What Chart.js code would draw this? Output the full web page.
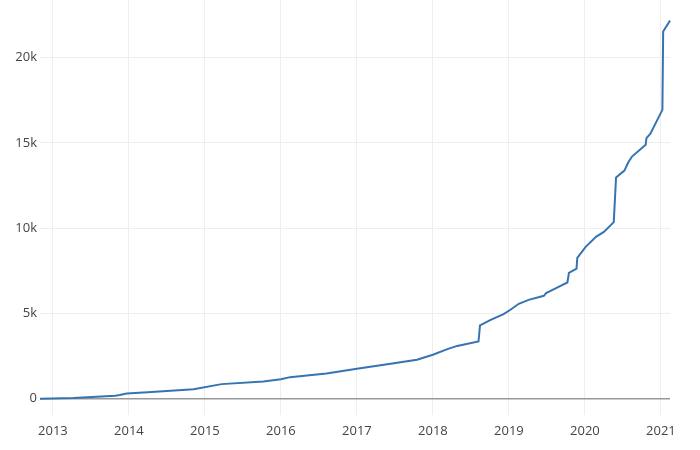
<!DOCTYPE html>
<html>
<head>
<meta charset="utf-8">
<script src="https://cdn.jsdelivr.net/npm/chart.js@4/dist/chart.umd.min.js"></script>
<style>
  html, body { margin: 0; padding: 0; background: #fff; }
  #wrap { width: 700px; height: 450px; }
</style>
</head>
<body>
<div id="wrap"><canvas id="totalChart"></canvas></div>
<script>
// dates as decimal years, running total
var years = [
  2012.83, 2013.27, 2013.82, 2013.88, 2013.97, 2014.3, 2014.85, 2015.22, 2015.77,
  2016.0, 2016.12, 2016.6, 2017.0, 2017.4, 2017.79, 2018.0, 2018.19, 2018.32,
  2018.6, 2018.62, 2018.76, 2018.93, 2019.02, 2019.13, 2019.26, 2019.46, 2019.49,
  2019.68, 2019.77, 2019.79, 2019.89, 2019.9, 2020.01, 2020.15, 2020.25, 2020.38,
  2020.41, 2020.52, 2020.57, 2020.62, 2020.8, 2020.81, 2020.86, 2021.02, 2021.03,
  2021.12
];
var totals = [
  0, 40, 180, 220, 310, 400, 560, 860, 1010,
  1150, 1270, 1480, 1760, 2020, 2290, 2580, 2910, 3100,
  3360, 4300, 4630, 4960, 5220, 5570, 5800, 6040, 6200,
  6620, 6820, 7380, 7630, 8260, 8910, 9510, 9780, 10360,
  12970, 13380, 13850, 14200, 14890, 15280, 15530, 16940, 21530,
  22170
];
var yearTicks = [2013, 2014, 2015, 2016, 2017, 2018, 2019, 2020, 2021];
var valueTicks = [0, 5000, 10000, 15000, 20000];

var points = years.map(function(y, i) {
  return { x: y, y: totals[i] };
});

// pin the plot box to where the reference has it
var fixArea = {
  id: "fixArea",
  afterLayout: function(chart) {
    var a = chart.chartArea;
    a.top = 0;
    a.height = a.bottom - a.top;
    var y = chart.scales.y;
    y.top = 0;
    y.height = y.bottom - y.top;
    y.configure();
    chart.scales.x.configure();
  }
};

var ctx = document.getElementById("totalChart").getContext("2d");
var totalChart = new Chart(ctx, {
  type: "line",
  data: {
    datasets: [{
      data: points,
      borderColor: "#3674b1",
      borderWidth: 2,
      pointRadius: 0,
      tension: 0,
      fill: false,
      clip: false
    }]
  },
  options: {
    responsive: true,
    maintainAspectRatio: false,
    animation: false,
    layout: { autoPadding: false, padding: { top: 0, right: 30, bottom: 0, left: 0 } },
    plugins: {
      legend: { display: false },
      tooltip: { enabled: false }
    },
    scales: {
      x: {
        type: "linear",
        min: 2012.83,
        max: 2021.12,
        afterBuildTicks: function(axis) {
          axis.ticks = yearTicks.map(function(v) { return { value: v }; });
        },
        afterFit: function(axis) { axis.height = 35; },
        border: { display: false },
        grid: { color: "#eeeeee", lineWidth: 1, drawTicks: false },
        ticks: {
          padding: 8,
          maxRotation: 0,
          color: "#444",
          font: { family: "'Open Sans', sans-serif", size: 13 },
          callback: function(v) { return String(v); }
        }
      },
      y: {
        min: -950,
        max: 23380,
        afterBuildTicks: function(axis) {
          axis.ticks = valueTicks.map(function(v) { return { value: v }; });
        },
        afterFit: function(axis) { axis.width = 40; },
        border: { display: false },
        grid: {
          drawTicks: false,
          color: function(c) { return c.tick && c.tick.value === 0 ? "#999999" : "#eeeeee"; },
          lineWidth: function(c) { return c.tick && c.tick.value === 0 ? 1.5 : 1; }
        },
        ticks: {
          padding: 3,
          color: "#444",
          font: { family: "'Open Sans', sans-serif", size: 13 },
          callback: function(v) { return v === 0 ? "0" : (v / 1000) + "k"; }
        }
      }
    }
  },
  plugins: [fixArea]
});
</script>
</body>
</html>
